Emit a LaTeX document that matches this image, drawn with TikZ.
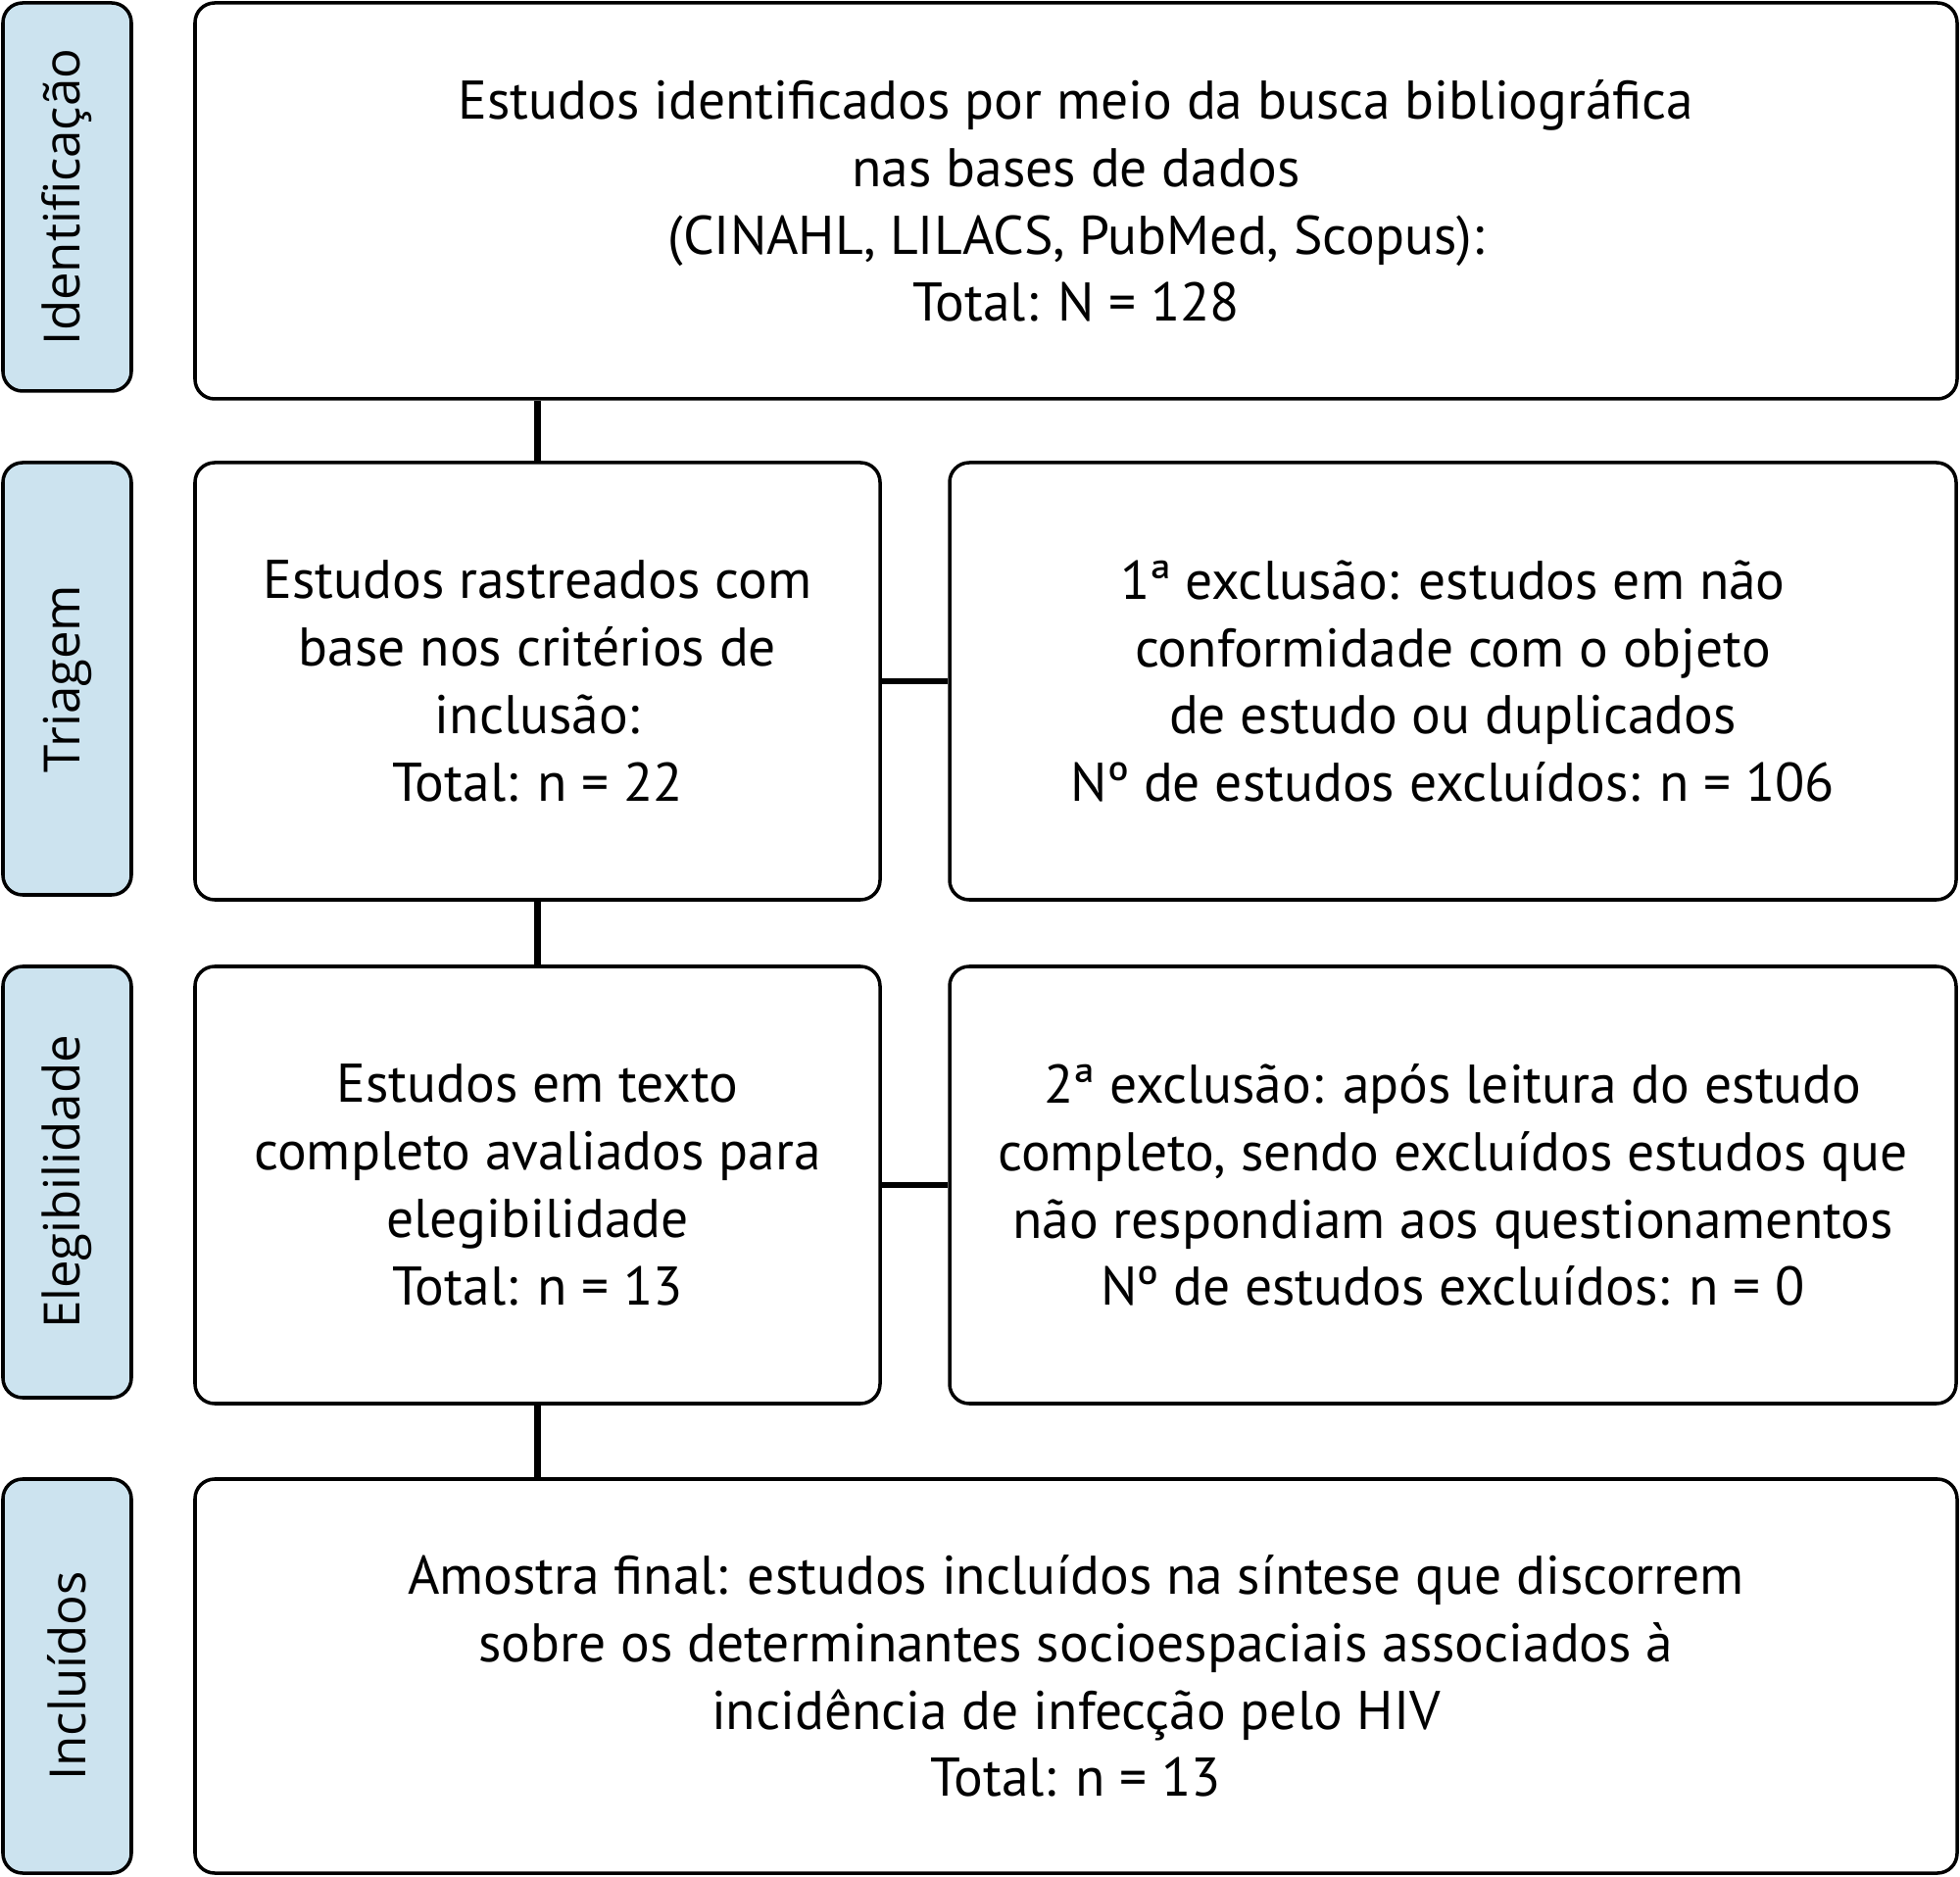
\documentclass[tikz,border=0pt]{standalone}
\usepackage{fontspec}
\setmainfont{PT Sans}
\newfontfamily\rotulofont{Open Sans}
\begin{document}
\begin{tikzpicture}[font=\fontsize{15.8}{19.6}\selectfont,
	box/.style={draw, line width=1pt, rounded corners=0.2cm, align=center, inner sep=0pt},
	fase/.style={box, fill=faseblue, minimum height=1.31cm, rotate=90, font=\rotulofont\fontsize{14.5}{17}\selectfont},
	ligacao/.style={line width=1.8pt}]
	\definecolor{faseblue}{HTML}{CCE3EF}
	\useasboundingbox (0,0) rectangle (20,-19.15);
	%fases
	\node[fase, minimum width=3.96cm] (identificacao) at (0.685,-2.01) {Identificação};
	\node[fase, minimum width=4.41cm] (triagem) at (0.685,-6.925) {Triagem};
	\node[fase, minimum width=4.40cm] (elegibilidade) at (0.685,-12.06) {Elegibilidade};
	\node[fase, minimum width=4.02cm] (incluidos) at (0.685,-17.10) {Incluídos};
	%caixas
	\node[box, minimum width=17.98cm, minimum height=4.04cm] (busca) at (10.98,-2.05)
	{Estudos identificados por meio da busca bibliográfica\\
		nas bases de dados\\
		(CINAHL, LILACS, PubMed, Scopus):\\
		Total: N = 128};
	\node[box, minimum width=6.99cm, minimum height=4.46cm] (rastreio) at (5.485,-6.95)
	{Estudos rastreados com\\
		base nos critérios de\\
		inclusão:\\
		Total: n = 22};
	\node[box, minimum width=10.27cm, minimum height=4.46cm] (exclusao1) at (14.825,-6.95)
	{1ª exclusão: estudos em não\\
		conformidade com o objeto\\
		de estudo ou duplicados\\
		Nº de estudos excluídos: n = 106};
	\node[box, minimum width=6.99cm, minimum height=4.46cm] (elegivel) at (5.485,-12.09)
	{Estudos em texto\\
		completo avaliados para\\
		elegibilidade\\
		Total: n = 13};
	\node[box, minimum width=10.27cm, minimum height=4.46cm] (exclusao2) at (14.825,-12.09)
	{2ª exclusão: após leitura do estudo\\
		completo, sendo excluídos estudos que\\
		não respondiam aos questionamentos\\
		Nº de estudos excluídos: n = 0};
	\node[box, minimum width=17.98cm, minimum height=4.02cm] (amostra) at (10.98,-17.10)
	{Amostra final: estudos incluídos na síntese que discorrem\\
		sobre os determinantes socioespaciais associados à\\
		incidência de infecção pelo HIV\\
		Total: n = 13};
	%ligacoes
	\draw[ligacao] (rastreio.north) -- (rastreio.north |- busca.south);
	\draw[ligacao] (rastreio.south) -- (elegivel.north);
	\draw[ligacao] (elegivel.south) -- (elegivel.south |- amostra.north);
	\draw[ligacao] (rastreio.east) -- (exclusao1.west);
	\draw[ligacao] (elegivel.east) -- (exclusao2.west);
\end{tikzpicture}
\end{document}
